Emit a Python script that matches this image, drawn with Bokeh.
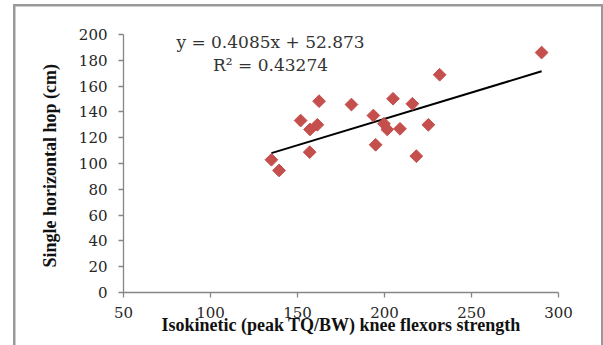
import numpy as np
from bokeh.plotting import figure
from bokeh.models import Label, Range1d, FixedTicker, ColumnDataSource
from bokeh.embed import file_html
from bokeh.resources import INLINE

# Data
strength = [135.0, 139.4, 151.8, 157.2, 161.4, 162.4, 157.0, 181.0, 193.6, 194.9,
            199.7, 201.6, 204.9, 208.9, 216.0, 225.2, 218.3, 231.7, 290.3]
hop = [102.9, 94.6, 133.3, 126.4, 130.0, 148.3, 108.8, 145.7, 137.2, 114.5,
       130.8, 126.4, 150.2, 126.9, 146.3, 130.0, 105.7, 168.8, 186.0]
slope = 0.4085
intercept = 52.873
r_squared = 0.43274
x_ticks = [50, 100, 150, 200, 250, 300]
y_ticks = [0, 20, 40, 60, 80, 100, 120, 140, 160, 180, 200]
x_title = "Isokinetic (peak TQ/BW) knee flexors strength"
y_title = "Single horizontal  hop (cm)"

pts = ColumnDataSource(dict(x=strength, y=hop))
x_fit = [min(strength), max(strength)]
y_fit = [slope * v + intercept for v in x_fit]
fit = ColumnDataSource(dict(x=x_fit, y=y_fit))

p = figure(width=603, height=345, x_range=Range1d(50, 300), y_range=Range1d(0, 200),
           output_backend="svg", toolbar_location=None,
           min_border_left=123, min_border_right=45, min_border_top=34, min_border_bottom=53)
bar = "linear-gradient(#999999, #999999)"
p.styles = {
    "background": (f"{bar} 13px 4px / 2.5px 345px no-repeat, "
                   f"{bar} 13px 4px / 590px 2.5px no-repeat, "
                   f"{bar} 600.5px 4px / 2.5px 345px no-repeat, white"),
}
p.outline_line_color = None
p.xgrid.visible = False
p.ygrid.visible = False
p.background_fill_color = None
p.border_fill_color = None

p.line("x", "y", source=fit, line_color="black", line_width=2)
p.scatter("x", "y", source=pts, marker="square", size=9, angle=np.pi / 4,
          fill_color="#C44F4C", line_color="#C44F4C")

for ax in (p.xaxis[0], p.yaxis[0]):
    ax.axis_line_color = "#868686"
    ax.axis_line_width = 1.3
    ax.major_tick_line_color = "#868686"
    ax.major_tick_line_width = 1.3
    ax.major_tick_in = 0
    ax.major_tick_out = 5
    ax.minor_tick_line_color = None
    ax.major_label_text_font = "DejaVu Serif"
    ax.major_label_text_font_size = "15px"
    ax.major_label_text_color = "#262626"
    ax.axis_label_text_font = "Liberation Serif"
    ax.axis_label_text_font_style = "bold"
    ax.axis_label_text_font_size = "18px"
    ax.axis_label_text_color = "#111111"

p.xaxis.ticker = FixedTicker(ticks=x_ticks)
p.yaxis.ticker = FixedTicker(ticks=y_ticks)
p.xaxis.axis_label = x_title
p.yaxis.axis_label = y_title
p.xaxis.major_label_standoff = 9
p.xaxis.axis_label_standoff = -6
p.yaxis.major_label_standoff = 11
p.yaxis.axis_label_standoff = 16

eq1 = Label(x=134.5, y=194.0, text="y = %.4fx + %.3f" % (slope, intercept),
            text_align="center", text_baseline="alphabetic",
            text_font="DejaVu Serif", text_font_size="17px", text_color="#333333")
eq2 = Label(x=134.5, y=176.0, text="R\u00b2 = %.5f" % r_squared,
            text_align="center", text_baseline="alphabetic",
            text_font="DejaVu Serif", text_font_size="17px", text_color="#333333")
p.add_layout(eq1)
p.add_layout(eq2)

open("out.html", "w").write(file_html(p, INLINE))
